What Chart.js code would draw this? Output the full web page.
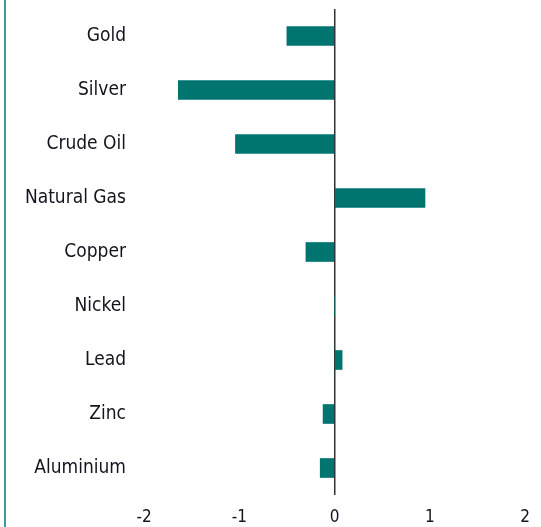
<!DOCTYPE html>
<html>
<head>
<meta charset="utf-8">
<script src="https://cdn.jsdelivr.net/npm/chart.js@4"></script>
<style>
    html, body { margin: 0; padding: 0; background: #fff; }
    #wrap { position: relative; width: 541px; height: 527px; }
    #edge { position: absolute; left: 4px; top: 0; width: 2px; height: 527px; background: #3a9d98; }
    canvas { display: block; }
</style>
</head>
<body>
<div id="wrap">
    <div id="edge"></div>
    <canvas id="chart" width="541" height="527"></canvas>
</div>
<script>
// Data
const commodities = ['Gold', 'Silver', 'Crude Oil', 'Natural Gas', 'Copper', 'Nickel', 'Lead', 'Zinc', 'Aluminium'];
const changes = [-0.5, -1.64, -1.04, 0.95, -0.30, 0, 0.08, -0.12, -0.15];
const xTicks = [-2, -1, 0, 1, 2];

const barColor = '#00746f';
const textColor = '#14141e';
const fontFamily = '"DejaVu Sans Condensed", "DejaVu Sans", sans-serif';

new Chart(document.getElementById('chart'), {
    type: 'bar',
    data: {
        labels: commodities,
        datasets: [{
            data: changes,
            backgroundColor: barColor,
            borderWidth: 0,
            barThickness: 19
        }]
    },
    options: {
        indexAxis: 'y',
        responsive: false,
        animation: false,
        layout: { padding: { top: 9, right: 16, left: 0, bottom: 0 } },
        plugins: {
            legend: { display: false },
            tooltip: { enabled: false }
        },
        scales: {
            x: {
                min: xTicks[0],
                max: xTicks[xTicks.length - 1],
                afterBuildTicks: function(scale) {
                    scale.ticks = xTicks.map(v => ({ value: v }));
                },
                afterFit: function(scale) {
                    scale.height = 32;
                    scale.paddingLeft = 0;
                    scale.paddingRight = 0;
                },
                border: { display: false },
                grid: {
                    drawTicks: false,
                    color: ctx => ctx.tick && ctx.tick.value === 0 ? '#333333' : 'rgba(0,0,0,0)',
                    lineWidth: 1.5
                },
                ticks: {
                    padding: 12,
                    color: textColor,
                    font: { family: fontFamily, size: 17 }
                }
            },
            y: {
                afterFit: function(scale) {
                    scale.width = 144;
                    scale.paddingTop = 0;
                    scale.paddingBottom = 0;
                },
                border: { display: false },
                grid: { display: false, drawTicks: false },
                ticks: {
                    padding: 18,
                    color: textColor,
                    font: { family: fontFamily, size: 19 }
                }
            }
        }
    }
});
</script>
</body>
</html>
